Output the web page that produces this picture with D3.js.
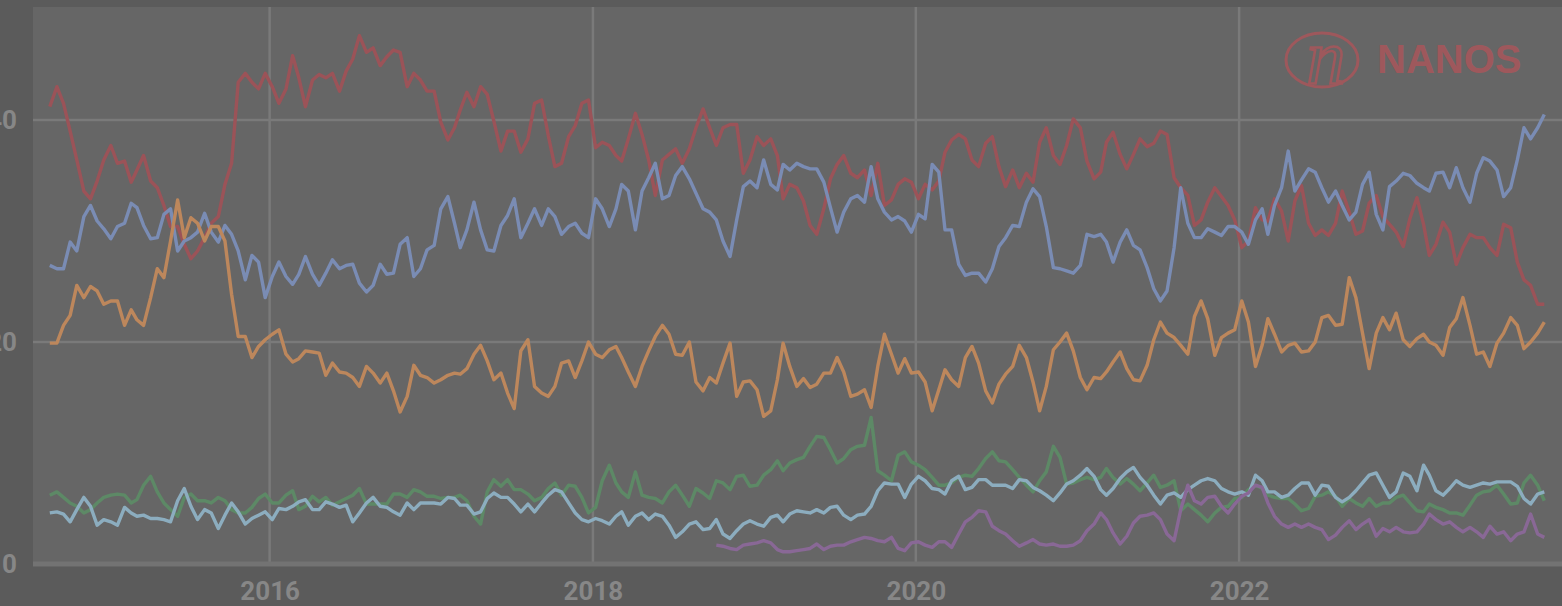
<!DOCTYPE html>
<html>
<head>
<meta charset="utf-8">
<script src="https://cdn.jsdelivr.net/npm/d3@7"></script>
<style>
    html, body { margin: 0; padding: 0; background: #5b5b5b; }
    svg { display: block; }
</style>
</head>
<body>
<svg id="chart" width="1562" height="606"></svg>
<script>
// poll values (%), one reading every half month from 22 Aug 2014
const liberal = [
    41.2, 43, 41.5, 39, 36.4, 33.6, 32.9, 34.5, 36.4, 37.7, 36.1, 36.3, 34.4, 35.5, 36.8, 34.5, 33.9, 32.3, 30.4, 30.4, 28.8, 27.5, 28.2, 29.4, 30.7, 31.3, 34.2, 36.1, 43.4, 44.2, 43.4, 42.8, 44.2, 43, 41.5, 42.8, 45.8,
    43.8, 41.2, 43.6, 44.1, 43.8, 44.2, 42.6, 44.4, 45.5, 47.6, 46.1, 46.5, 44.9, 45.7, 46.3, 46.1, 43, 44.2, 43.6, 42.6, 42.6, 39.8, 38.2, 39.3, 40.9, 42.5, 41.2, 43, 42.3, 39.9, 37.2, 39, 39, 37.1, 38.3, 41.5, 41.8, 38.6,
    35.8, 36.1, 38.5, 39.5, 41.5, 41.8, 37.5, 38, 37.7, 36.8, 36.3, 38.3, 40.6, 38.7, 36.4, 33.2, 36.4, 36.9, 37.4, 36.1, 37.4, 39.3, 41, 39.3, 37.7, 39.3, 39.6, 39.6, 35.2, 36.4, 38.5, 37.7, 38.3, 36.8, 32.9, 34.2, 33.9, 32.7,
    30.5, 29.7, 32, 34.7, 36, 36.8, 35.2, 34.8, 35.5, 33.2, 36.1, 32.3, 32.8, 34.2, 34.7, 34.4, 32.9, 34.2, 33.7, 34.5, 37.1, 38.2, 38.7, 38.3, 36.4, 35.8, 37.9, 38.5, 35.8, 34, 35.5, 33.9, 35.2, 34.4, 38, 39.3, 36.8, 36,
    37.7, 40.1, 39.3, 36.3, 34.7, 35.3, 38, 38.9, 36.9, 35.6, 36.9, 38.3, 37.6, 37.9, 39, 38.7, 34.8, 33.9, 33.2, 30.5, 31, 32.6, 33.9, 33.1, 32.3, 31, 28.5, 29.1, 32.1, 31, 30.9, 32.9, 31.8, 29.1, 32.7,
    34.1, 30.7, 29.6, 30.1, 29.6, 30.7, 33.6, 31.7, 29.7, 30, 32.5, 33.2, 31.3, 30.6, 29.9, 28.6, 31.1, 33, 30.6, 27.8, 28.8, 30.8, 29.9, 27, 28.5, 29.7, 29.4, 29.4, 28.5, 27.8, 30.6, 30.3, 27.2, 25.6, 25.1, 23.4, 23.4
];
const conservative = [
    26.9, 26.6, 26.6, 29, 28.2, 31.3, 32.3, 30.9, 30.2, 29.3, 30.4, 30.7, 32.5, 32.1, 30.5, 29.3, 29.4, 31.5, 32, 28.2, 29.1, 29.4, 29.9, 31.6, 29.9, 29, 30.5, 29.7, 28.2, 25.6, 27.8, 27.2, 24, 25.9, 27.2, 25.9, 25.2,
    26.1, 27.7, 26.1, 25.1, 26.2, 27.4, 26.6, 26.9, 27, 25.3, 24.5, 25.1, 27, 26.1, 26.2, 28.8, 29.4, 25.9, 26.6, 28.3, 28.7, 32, 33.1, 30.7, 28.5, 30.1, 32.6, 30.1, 28.3, 28.2, 30.5, 31.4, 32.9, 29.4, 30.7, 32, 30.5, 32,
    31.3, 29.7, 30.4, 30.7, 29.8, 29.4, 32.9, 32, 30.4, 32, 34.2, 33.6, 30.1, 33.6, 34.8, 36.1, 32.9, 33.2, 35, 35.8, 34.7, 33.4, 32, 31.7, 31, 29.1, 27.7, 31, 34, 34.5, 33.9, 36.4, 34.2, 33.7, 36, 35.5, 36.1, 35.8,
    35.6, 35.6, 34.4, 32.1, 29.9, 31.7, 32.9, 33.2, 32.6, 35.8, 32.9, 31.7, 31, 31.3, 30.9, 29.9, 31.5, 31.1, 36, 35.3, 30.1, 30.1, 27, 26, 26.2, 26.2, 25.4, 26.6, 28.6, 29.4, 30.5, 30.4, 32.6, 33.8, 33.1, 30.4, 26.7, 26.6,
    26.4, 26.2, 26.9, 29.7, 29.5, 29.7, 29, 27.2, 29, 30.1, 28.7, 28.3, 26.7, 24.8, 23.7, 24.6, 28.5, 33.9, 30.7, 29.4, 29.4, 30.2, 29.9, 29.6, 30.4, 30.4, 29.9, 28.8, 31, 32, 29.7, 32.3, 33.9, 37.2, 33.6,
    34.6, 35.6, 35.3, 33.9, 32.6, 33.6, 32.3, 31, 31.7, 34.2, 35.3, 31.5, 30.1, 34, 34.5, 35.2, 35, 34.3, 33.9, 33.6, 35.2, 35.3, 33.9, 35.7, 33.9, 32.6, 35.2, 36.6, 36.3, 35.5, 33.1, 33.9, 36.4, 39.3, 38.3, 39.3, 40.5
];
const ndp = [
    19.9, 19.9, 21.5, 22.4, 25.1, 24, 25, 24.6, 23.4, 23.7, 23.7, 21.5, 22.9, 22, 21.5, 24, 26.6, 25.8, 29.1, 32.8, 29.4, 31.2, 30.7, 29.1, 30.4, 30.4, 29.1, 24.3, 20.5, 20.5, 18.6, 19.6, 20.2, 20.7, 21.1, 18.9, 18.2,
    18.5, 19.2, 19.1, 19, 17, 18.1, 17.3, 17.2, 16.8, 16, 17.8, 17.2, 16.3, 17.2, 15.6, 13.7, 15.1, 17.9, 17, 16.8, 16.3, 16.6, 17, 17.2, 17.1, 17.6, 18.9, 19.7, 18.3, 16.6, 17.2, 15.4, 14, 19.2, 20.2, 16, 15.4, 15.1,
    16, 18.1, 18.3, 16.8, 18.3, 20, 18.9, 18.6, 19.3, 19.6, 18.6, 17.3, 16, 17.8, 19.2, 20.5, 21.5, 20.7, 18.9, 18.8, 20, 16.4, 15.6, 16.8, 16.3, 18.1, 19.9, 15.1, 16.4, 16.5, 15.7, 13.3, 13.8, 16.6, 19.9, 17.8, 16, 16.7,
    15.9, 16.2, 17.2, 17.2, 18.6, 17.3, 15.1, 15.3, 15.7, 14.1, 17.8, 20.7, 18.9, 17.2, 18.5, 17.2, 17.3, 16.4, 13.8, 15.7, 17.5, 16.6, 16, 18.6, 19.6, 18.1, 15.6, 14.5, 16.2, 17.1, 17.8, 19.7, 18.6, 16.4, 13.8, 16, 19.3, 20,
    20.8, 19.2, 16.8, 15.7, 16.8, 16.7, 17.3, 18.2, 19.1, 17.6, 16.6, 16.5, 17.9, 20.2, 21.8, 20.8, 20.4, 19.7, 18.9, 22.3, 23.7, 22.1, 18.8, 20.4, 20.8, 21.1, 23.7, 21.8, 17.8, 19.7, 22.1, 20.7, 19.1, 19.7, 19.9,
    19.1, 19.2, 20, 22.2, 22.4, 21.5, 21.6, 25.8, 24, 20.8, 17.6, 20.8, 22.2, 21.1, 22.6, 20.2, 19.6, 20.3, 20.7, 20, 19.7, 18.8, 21.3, 22.1, 24, 21.5, 18.9, 19.1, 17.8, 19.9, 20.8, 22.2, 21.5, 19.4, 20, 20.8, 21.8
];
const green = [
    6.2, 6.5, 6, 5.5, 5.2, 4.6, 4.9, 5.5, 6, 6.2, 6.3, 6.2, 5.5, 5.8, 7.1, 7.9, 6.5, 5.5, 4.9, 4.3, 6, 6.3, 5.7, 5.7, 5.5, 6, 5.7, 4.9, 4.6, 4.6, 5.1, 5.9, 6.3, 5.5, 5.5, 6.2, 6.6,
    4.9, 5.2, 6.1, 5.6, 6, 5.3, 5.6, 5.9, 6.2, 6.8, 5.4, 5.4, 5.4, 5.4, 6.3, 6.3, 6, 6.7, 6.5, 6.1, 6.1, 5.9, 6, 6, 6.2, 5.7, 4.3, 3.6, 6.5, 7.6, 7, 7.6, 6.7, 6.7, 6.3, 5.7, 6, 6.8,
    7.3, 6.2, 7.1, 7, 6, 4.6, 5.1, 7.5, 8.9, 7.3, 6.5, 6, 8.3, 6.2, 6, 5.9, 5.5, 6.5, 7.1, 6.2, 5.2, 6.8, 6.4, 5.9, 7.5, 7.3, 6.7, 7.9, 8, 7, 7.1, 8, 8.5, 9.3, 8.4, 9.1, 9.4, 9.6,
    10.6, 11.5, 11.4, 10.3, 9.1, 9.5, 10.3, 10.6, 10.7, 13.2, 8.4, 8, 7.5, 9.8, 10.1, 9.2, 8.9, 8.5, 7.8, 7.1, 7.1, 7.3, 7.8, 8, 7.9, 8.6, 9.5, 10.1, 9.3, 9.2, 8.5, 7.8, 7.1, 6.5, 7.5, 8.3, 10.6, 9.6,
    7.2, 7.3, 7.6, 7.8, 7.6, 7.8, 8.6, 7.8, 7.2, 7.7, 7.2, 6.6, 7.3, 8, 6.9, 7.1, 7.5, 4.8, 5.4, 4.9, 4.4, 3.8, 4.6, 5.1, 5.2, 5.9, 6, 6.7, 7.1, 6.8, 6.2, 6, 5.9, 5.9, 5.4,
    4.8, 5, 6.1, 6.2, 6.5, 6.1, 5.2, 5.9, 5.5, 5.2, 5.9, 5.2, 5.5, 5.5, 6, 6.2, 5.5, 4.8, 4.7, 5.4, 5.1, 4.9, 4.6, 4.6, 4.4, 5.3, 6.2, 6.5, 6.6, 7.1, 6.3, 5.4, 5.5, 7.3, 8, 7.1, 5.7
];
const bloc = [
    4.6, 4.7, 4.5, 3.8, 4.9, 6, 5.2, 3.5, 4, 3.8, 3.5, 5.1, 4.6, 4.3, 4.4, 4.1, 4.1, 4, 3.8, 5.7, 6.8, 5.2, 4, 4.9, 4.6, 3.2, 4.4, 5.5, 4.7, 3.6, 4.1, 4.4, 4.7, 4, 5, 4.9, 5.2,
    5.6, 5.8, 4.9, 4.9, 5.6, 5.4, 5.1, 5.3, 3.8, 4.6, 5.5, 6, 5.2, 5.1, 4.7, 4.4, 5.5, 4.9, 5.5, 5.5, 5.5, 5.4, 6, 5.9, 5.3, 5.3, 4.5, 4.7, 5.9, 6.4, 6, 6, 5.4, 4.7, 5.4, 4.7, 5.5, 6.2,
    6.7, 6.5, 5.5, 4.6, 4, 3.8, 4.1, 3.9, 3.6, 4.3, 4.7, 3.5, 4.3, 4.6, 4, 4.5, 4.3, 3.5, 2.4, 2.9, 3.6, 3.8, 3.1, 3.2, 4, 2.7, 2.3, 3, 3.6, 3.9, 3.6, 3.4, 4.2, 4.4, 3.8, 4.5, 4.8, 4.7,
    4.6, 4.9, 4.6, 5.1, 5.2, 4.4, 4, 4.4, 4.5, 5.2, 6.6, 7.3, 7.2, 7.2, 6, 7.2, 7.9, 7.5, 6.8, 6.7, 6.3, 7.5, 7.9, 6.7, 6.9, 7.6, 7.6, 7.1, 7.1, 7.1, 6.8, 7.6, 7.5, 6.9, 6.6, 6.2, 5.7, 6.4,
    7.2, 7.5, 8, 8.6, 7.9, 6.7, 6.2, 6.8, 7.7, 8.3, 8.7, 7.8, 7.1, 6.2, 5.4, 6.2, 6.4, 6, 6.7, 7.1, 7.5, 7.7, 7.5, 6.8, 6.5, 6.3, 6.5, 6.2, 8, 7.5, 6.5, 6.5, 6, 6.2, 6.8,
    7.3, 7.3, 6.2, 7.1, 7, 6, 5.6, 6, 6.6, 7.3, 8, 8.2, 7.1, 6, 6.5, 8.2, 7.9, 6.6, 8.9, 8, 6.6, 6.2, 6.8, 7.5, 7.1, 6.9, 7.1, 7.3, 7.2, 7.4, 7.4, 7.4, 7, 5.9, 5.4, 6.3, 6.5
];
// PPC only polled from reading no. 99 (Oct 2018)
const ppcFirst = 99;
const ppc = [
    1.7, 1.6, 1.4, 1.3, 1.7, 1.8, 1.9, 2.1, 1.9, 1.3, 1.1, 1.1, 1.2, 1.3,
    1.4, 1.8, 1.3, 1.6, 1.7, 1.7, 2, 2.2, 2.4, 2.3, 2.1, 2, 2.4, 1.4, 1.2, 1.9, 2, 1.7, 1.5, 2, 2, 1.5, 2.7, 3.8, 4.2, 4.8, 4.7, 3.4, 3, 2.7, 2.1, 1.6, 1.9, 2.2, 1.8, 1.7, 1.8, 1.6,
    1.6, 1.7, 2.1, 3, 3.6, 4.6, 4, 2.8, 1.8, 2.5, 3.7, 4.3, 4.4, 4.6, 4, 2.7, 2.1, 4.9, 7.1, 5.7, 5.4, 6, 6.1, 5.2, 4.6, 5.4, 6.1, 6.4, 7.1, 6.9, 5.5, 4.3, 3.6, 3.3, 3.6,
    3.3, 3.6, 3.3, 3.1, 2.2, 2.6, 3.3, 3.9, 3.1, 3.6, 4, 2.5, 3.2, 2.9, 3.3, 2.9, 2.8, 2.9, 3.6, 4.5, 4, 3.6, 3.8, 3.3, 2.9, 3.3, 2.9, 2.4, 3.4, 2.7, 2.9, 2.1, 2.7, 2.9, 4.5, 2.7, 2.4
];

const yTicks = [0, 20, 40];
const xTickYears = [2016, 2018, 2020, 2022];

// readings fall on the 22nd and the 7th of each month
const pollDates = d3.range(liberal.length).map((i) => i % 2 === 0
    ? new Date(2014, 7 + i / 2, 22)
    : new Date(2014, 7 + (i + 1) / 2, 7));

const series = [
    { name: 'Liberal', values: liberal, first: 0, color: '#9b5358' },
    { name: 'Conservative', values: conservative, first: 0, color: '#7a8cb4' },
    { name: 'NDP', values: ndp, first: 0, color: '#bd875c' },
    { name: 'Green', values: green, first: 0, color: '#5d8966' },
    { name: 'Bloc', values: bloc, first: 0, color: '#8cadbf' },
    { name: 'PPC', values: ppc, first: ppcFirst, color: '#896896' }
];

const W = 1562;
const H = 606;
const plot = { left: 33, top: 7, right: W, bottom: 564 };
const FONT = 'Roboto, "Open Sans", sans-serif';

const x = d3.scaleTime()
    .domain([new Date(2014, 6, 15), new Date(2024, 0, 1)])
    .range([plot.left, plot.right]);

const y = d3.scaleLinear()
    .domain([0, 50])
    .range([plot.bottom, plot.top + 2]);

const svg = d3.select('#chart');

svg.append('rect')
    .attr('width', W)
    .attr('height', H)
    .attr('fill', '#5b5b5b');

svg.append('rect')
    .attr('x', plot.left)
    .attr('y', plot.top)
    .attr('width', plot.right - plot.left)
    .attr('height', plot.bottom - plot.top)
    .attr('fill', '#666666');

const xTicks = xTickYears.map((yr) => new Date(yr, 0, 1));

// grid
svg.append('g')
    .selectAll('line')
    .data(yTicks.filter((d) => d > 0))
    .join('line')
    .attr('x1', plot.left)
    .attr('x2', plot.right)
    .attr('y1', (d) => y(d))
    .attr('y2', (d) => y(d))
    .attr('stroke', '#7a7a7a')
    .attr('stroke-width', 2.5);

svg.append('g')
    .selectAll('line')
    .data(xTicks)
    .join('line')
    .attr('x1', (d) => x(d))
    .attr('x2', (d) => x(d))
    .attr('y1', plot.top)
    .attr('y2', plot.bottom)
    .attr('stroke', '#7a7a7a')
    .attr('stroke-width', 2.5);

svg.append('line')
    .attr('x1', plot.left)
    .attr('x2', plot.right)
    .attr('y1', y(0))
    .attr('y2', y(0))
    .attr('stroke', '#737373')
    .attr('stroke-width', 5);

// watermark
const logoColor = '#9e585c';
const logo = svg.append('g');
logo.append('ellipse')
    .attr('cx', 1322)
    .attr('cy', 60)
    .attr('rx', 36)
    .attr('ry', 27)
    .attr('fill', 'none')
    .attr('stroke', logoColor)
    .attr('stroke-width', 3);
logo.append('text')
    .attr('x', 1326)
    .attr('y', 84)
    .attr('text-anchor', 'middle')
    .attr('font-family', '"Liberation Serif", serif')
    .attr('font-style', 'italic')
    .attr('font-size', 78)
    .attr('fill', 'none')
    .attr('stroke', logoColor)
    .attr('stroke-width', 2.6)
    .text('n');
logo.append('text')
    .attr('x', 1377)
    .attr('y', 73)
    .attr('font-family', '"Liberation Sans", Arial, sans-serif')
    .attr('font-weight', 'bold')
    .attr('font-size', 40)
    .attr('fill', logoColor)
    .text('NANOS');

// lines
const line = (first) => d3.line()
    .x((d, i) => x(pollDates[first + i]))
    .y((d) => y(d));

svg.append('g')
    .selectAll('path')
    .data(series)
    .join('path')
    .attr('d', (s) => line(s.first)(s.values))
    .attr('fill', 'none')
    .attr('stroke', (s) => s.color)
    .attr('stroke-width', 3.4)
    .attr('stroke-linejoin', 'round');

// axes
const yAxis = svg.append('g')
    .attr('transform', 'translate(17,0)')
    .call(d3.axisLeft(y).tickValues(yTicks).tickSize(0).tickPadding(0));

const xAxis = svg.append('g')
    .attr('transform', `translate(0,${plot.bottom})`)
    .call(d3.axisBottom(x).tickValues(xTicks).tickFormat(d3.timeFormat('%Y')).tickSize(0).tickPadding(18));

[yAxis, xAxis].forEach((ax) => {
    ax.select('.domain').remove();
    ax.selectAll('text')
        .attr('fill', '#878787')
        .attr('font-family', FONT)
        .attr('font-weight', 700)
        .attr('font-size', 26);
});
</script>
</body>
</html>
